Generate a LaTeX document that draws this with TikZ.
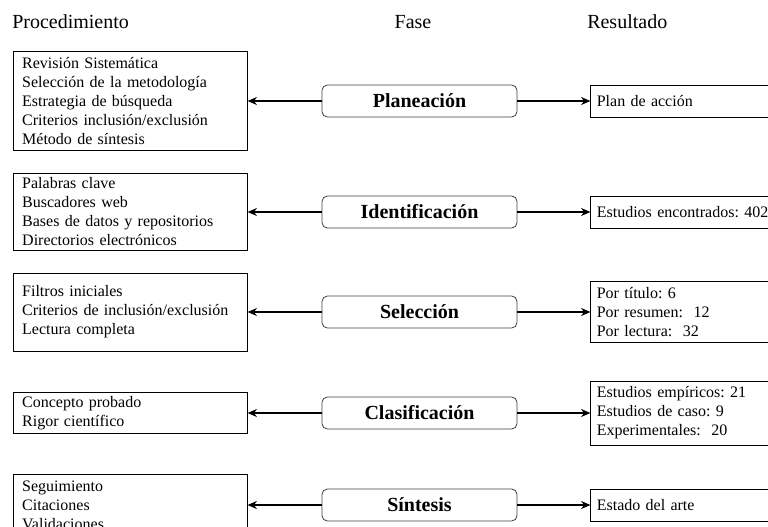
\documentclass[tikz,border=0pt]{standalone}
\usepackage{fontspec}
\setmainfont{Liberation Serif}
\usetikzlibrary{positioning,arrows.meta}
\frenchspacing

\begin{document}
\begin{tikzpicture}[
		x=0.75pt, y=-0.75pt,
		font=\fontsize{12}{14.25}\selectfont,
		>={Stealth[length=7pt,width=6pt]},
		proc/.style={
			rectangle,
			draw=black,
			line width=0.6pt,
			align=left,
			text width=162pt,
			inner xsep=6.75pt,
			inner ysep=1pt
		},
		fase/.style={
			rectangle,
			rounded corners=4pt,
			draw=black!75,
			line width=0.6pt,
			minimum width=146.25pt,
			minimum height=24pt,
			font=\fontsize{15}{18}\selectfont\bfseries
		},
		res/.style={
			rectangle,
			draw=black,
			line width=0.6pt,
			align=left,
			text width=160pt,
			inner xsep=4.5pt,
			inner ysep=1pt
		},
		titulo/.style={
			inner sep=0pt,
			font=\fontsize{15}{18}\selectfont
		},
		flecha/.style={
			->,
			line width=1pt
		}
		]
		\useasboundingbox (0,0) rectangle (768,526);
		\clip (0,0) rectangle (768,526);
		
		% Titles of the columns
		\node [titulo, anchor=west] (tproc) at (12,22) {Procedimiento};
		\node [titulo] (tfase) at (413,22) {Fase};
		\node [titulo, anchor=west] (tres) at (587,22) {Resultado};
		
		% The phases in the middle
		\node [fase] (fase1) at (419.5,101) {Planeación};
		\node [fase] (fase2) at (419.5,212) {Identificación};
		\node [fase] (fase3) at (419.5,312) {Selección};
		\node [fase] (fase4) at (419.5,413) {Clasificación};
		\node [fase] (fase5) at (419.5,505) {Síntesis};
		
		% Procedures on the left
		\node [proc, minimum height=74.25pt, left=55.5pt of fase1] (proc1)
		{Revisión Sistemática\\
			Selección de la metodología\\
			Estrategia de búsqueda\\
			Criterios inclusión/exclusión\\
			Método de síntesis};
		
		\node [proc, minimum height=57.75pt, left=55.5pt of fase2] (proc2)
		{Palabras clave\\
			Buscadores web\\
			Bases de datos y repositorios\\
			Directorios electrónicos};
		
		\node [proc, minimum height=58.5pt, left=55.5pt of fase3] (proc3)
		{Filtros iniciales\\
			Criterios de inclusión/exclusión\\
			Lectura completa};
		
		\node [proc, minimum height=30.75pt, left=55.5pt of fase4] (proc4)
		{Concepto probado\\
			Rigor científico};
		
		\node [proc, minimum height=46.5pt, left=55.5pt of fase5] (proc5)
		{Seguimiento\\
			Citaciones\\
			Validaciones};
		
		% Results on the right
		\node [res, minimum height=24pt, right=54.75pt of fase1] (res1)
		{Plan de acción};
		
		\node [res, minimum height=24pt, right=54.75pt of fase2] (res2)
		{Estudios encontrados: 402};
		
		\node [res, minimum height=45.75pt, right=54.75pt of fase3] (res3)
		{Por título: 6\\
			Por resumen:~ 12\\
			Por lectura:~ 32};
		
		\node [res, minimum height=48pt, right=54.75pt of fase4] (res4)
		{Estudios empíricos: 21\\
			Estudios de caso: 9\\
			Experimentales:~ 20};
		
		\node [res, minimum height=24pt, right=54.75pt of fase5] (res5)
		{Estado del arte};
		
		\foreach \i in {1,...,5} {
			\draw [flecha] (fase\i) -- (proc\i);
			\draw [flecha] (fase\i) -- (res\i);
		}
		
\end{tikzpicture}
\end{document}
